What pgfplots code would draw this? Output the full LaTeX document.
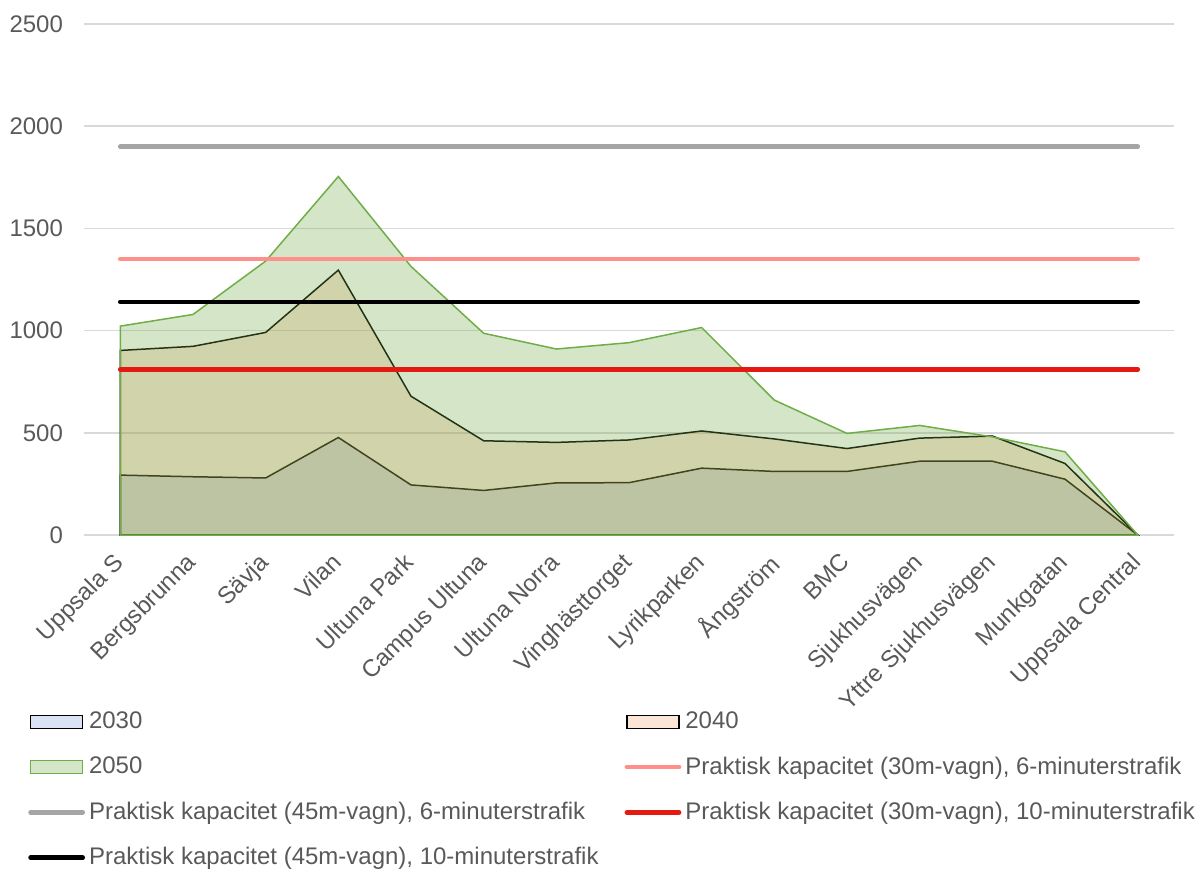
\documentclass[border=0pt]{standalone}
\usepackage{fontspec}
\setmainfont{Liberation Sans}
\usepackage{pgfplots}
\pgfplotsset{compat=1.18}
\definecolor{txt}{HTML}{595959}
\definecolor{gridc}{HTML}{D9D9D9}
\definecolor{cA}{HTML}{4472C4}
\definecolor{cB}{HTML}{ED7D31}
\definecolor{cC}{HTML}{70AD47}
\definecolor{lpink}{HTML}{FF8F8B}
\definecolor{lgray}{HTML}{A5A5A5}
\definecolor{lred}{HTML}{E41A12}
\newcommand{\fs}{\fontsize{12}{14.4}\selectfont}
\pgfplotsset{
  arealeg/.style={legend image code/.code={\draw[##1] (0pt,-3.25pt) rectangle (26pt,3.25pt);}},
  lineleg/.style={legend image code/.code={\draw[##1] (0pt,0pt) -- (26pt,0pt);}},
}
\begin{document}
\begin{tikzpicture}
\useasboundingbox (-42pt,-167pt) rectangle (556pt,267.5pt);
\begin{axis}[
  scale only axis,
  width=545pt, height=255.5pt,
  xmin=-0.5, xmax=14.5,
  ymin=0, ymax=2500,
  ytick={0,500,1000,1500,2000,2500},
  xtick={0,...,14},
  xticklabels={Uppsala S,Bergsbrunna,Sävja,Vilan,Ultuna Park,Campus Ultuna,Ultuna Norra,Vinghästtorget,Lyrikparken,Ångström,BMC,Sjukhusvägen,Yttre Sjukhusvägen,Munkgatan,Uppsala Central},
  axis line style={draw=none},
  ymajorgrids, xmajorgrids=false,
  grid style={draw=gridc, line width=0.75pt},
  major tick length=0pt,
  tick style={draw=none},
  /pgf/number format/assume math mode=true,
  /pgf/number format/1000 sep={},
  tick label style={font=\fs, text=txt},
  yticklabel style={xshift=-7pt},
  xticklabel style={anchor=north east, xshift=-4pt, yshift=-3.3pt, rotate=45},
  legend columns=2,
  legend cell align=left,
  legend style={at={(-0.057,-0.330)}, anchor=north west, draw=none, fill=none,
    font=\fs, text=txt, row sep=8.5pt,
    /tikz/every even column/.append style={column sep=11pt}},
]
\addplot[fill=cA, fill opacity=0.2, draw=black, line width=0.75pt, arealeg]
  coordinates {(0,293) (1,285) (2,279) (3,477) (4,245) (5,218) (6,255) (7,256) (8,327) (9,311) (10,311) (11,361) (12,361) (13,273) (14,0)} \closedcycle;
\addlegendentry{2030}
\addplot[fill=cB, fill opacity=0.2, draw=black, line width=0.75pt, arealeg]
  coordinates {(0,903) (1,923) (2,991) (3,1296) (4,679) (5,461) (6,453) (7,465) (8,509) (9,470) (10,423) (11,474) (12,484) (13,350) (14,0)} \closedcycle;
\addlegendentry{2040}
\addplot[fill=cC, fill opacity=0.3, draw=cC, line width=0.75pt, arealeg]
  coordinates {(0,1022) (1,1079) (2,1340) (3,1754) (4,1314) (5,987) (6,910) (7,941) (8,1015) (9,660) (10,497) (11,536) (12,480) (13,407) (14,0)} \closedcycle;
\addlegendentry{2050}
\addplot[lpink, line width=2.4pt, line cap=round, lineleg]
  coordinates {(0,1350) (14,1350)};
\addlegendentry{Praktisk kapacitet (30m-vagn), 6-minuterstrafik}
\addplot[lgray, line width=2.4pt, line cap=round, lineleg]
  coordinates {(0,1900) (14,1900)};
\addlegendentry{Praktisk kapacitet (45m-vagn), 6-minuterstrafik}
\addplot[lred, line width=2.4pt, line cap=round, lineleg]
  coordinates {(0,810) (14,810)};
\addlegendentry{Praktisk kapacitet (30m-vagn), 10-minuterstrafik}
\addplot[black, line width=2.4pt, line cap=round, lineleg]
  coordinates {(0,1140) (14,1140)};
\addlegendentry{Praktisk kapacitet (45m-vagn), 10-minuterstrafik}
\end{axis}
\end{tikzpicture}
\end{document}
